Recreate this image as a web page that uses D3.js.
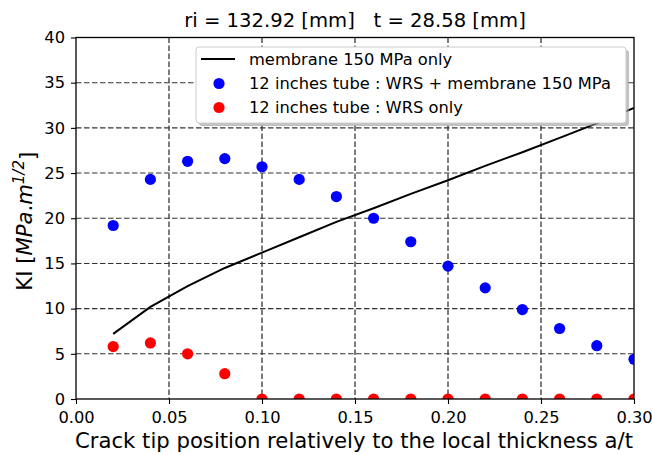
<!DOCTYPE html>
<html>
<head>
<meta charset="utf-8">
<script src="https://d3js.org/d3.v7.min.js"></script>
<style>
  body { margin: 0; background: #fff; }
  text { font-family: "DejaVu Sans", sans-serif; fill: #000; }
</style>
</head>
<body>
<svg id="chart" width="652" height="455"></svg>
<script>
// crack depth positions a/t
const positions = [0.02, 0.04, 0.06, 0.08, 0.10, 0.12, 0.14, 0.16, 0.18, 0.20, 0.22, 0.24, 0.26, 0.28, 0.30];
// KI for membrane stress only (line)
const membraneKI = [7.2, 10.2, 12.5, 14.5, 16.2, 17.9, 19.6, 21.1, 22.7, 24.2, 25.8, 27.3, 28.9, 30.5, 32.2];
// KI for WRS + membrane (blue dots)
const wrsMembraneKI = [19.2, 24.3, 26.3, 26.6, 25.7, 24.3, 22.4, 20.0, 17.4, 14.7, 12.3, 9.9, 7.8, 5.9, 4.4];
// KI for WRS only (red dots)
const wrsOnlyKI = [5.8, 6.2, 5.0, 2.8, 0, 0, 0, 0, 0, 0, 0, 0, 0, 0, 0];

const xTicks = [0, 0.05, 0.10, 0.15, 0.20, 0.25, 0.30];
const yTicks = [0, 5, 10, 15, 20, 25, 30, 35, 40];
const legendLabels = ["membrane 150 MPa only", "12 inches tube : WRS + membrane 150 MPa", "12 inches tube : WRS only"];

const svg = d3.select("#chart");
const pLeft = 76, pRight = 634, pTop = 37.5, pBottom = 399;

const x = d3.scaleLinear().domain([0, 0.3]).range([pLeft, pRight]);
const y = d3.scaleLinear().domain([0, 40]).range([pBottom, pTop]);

svg.append("defs").append("clipPath").attr("id", "clip")
  .append("rect").attr("x", pLeft).attr("y", pTop)
  .attr("width", pRight - pLeft).attr("height", pBottom - pTop);

// grid
const grid = svg.append("g");
grid.selectAll("line.gx").data(xTicks.slice(1, -1)).join("line")
  .attr("x1", d => x(d)).attr("x2", d => x(d))
  .attr("y1", pTop).attr("y2", pBottom)
  .attr("stroke", "#111").attr("stroke-width", 1.1).attr("stroke-dasharray", "5.5,2.5");
grid.selectAll("line.gy").data(yTicks.slice(1, -1)).join("line")
  .attr("x1", pLeft).attr("x2", pRight)
  .attr("y1", d => y(d)).attr("y2", d => y(d))
  .attr("stroke", "#333").attr("stroke-width", 1.1).attr("stroke-dasharray", "5.5,2.5");

// axes
const xAxis = svg.append("g").attr("transform", `translate(0,${pBottom})`)
  .call(d3.axisBottom(x).tickValues(xTicks).tickFormat(d3.format(".2f")).tickSize(5).tickPadding(7));
const yAxis = svg.append("g").attr("transform", `translate(${pLeft},0)`)
  .call(d3.axisLeft(y).tickValues(yTicks).tickSize(5).tickPadding(6));
[xAxis, yAxis].forEach(a => {
  a.select(".domain").remove();
  a.selectAll(".tick line").attr("stroke", "#000").attr("stroke-width", 1.1);
  a.selectAll(".tick text").style("font-family", "DejaVu Sans").style("font-size", "16.3px").attr("fill", "#000");
});

// data
const plot = svg.append("g").attr("clip-path", "url(#clip)");
plot.append("path")
  .datum(positions.map((p, i) => [p, membraneKI[i]]))
  .attr("fill", "none").attr("stroke", "#000").attr("stroke-width", 2)
  .attr("d", d3.line().x(d => x(d[0])).y(d => y(d[1])));
plot.selectAll("circle.blue").data(positions).join("circle")
  .attr("class", "blue")
  .attr("cx", d => x(d)).attr("cy", (d, i) => y(wrsMembraneKI[i]))
  .attr("r", 5.6).attr("fill", "#0000ff");
plot.selectAll("circle.red").data(positions).join("circle")
  .attr("class", "red")
  .attr("cx", d => x(d)).attr("cy", (d, i) => y(wrsOnlyKI[i]))
  .attr("r", 5.6).attr("fill", "#ff0000");

// frame
svg.append("rect").attr("x", pLeft).attr("y", pTop)
  .attr("width", pRight - pLeft).attr("height", pBottom - pTop)
  .attr("fill", "none").attr("stroke", "#000").attr("stroke-width", 1.3);

// legend
const lg = svg.append("g");
lg.append("rect").attr("x", 199).attr("y", 50).attr("width", 430).attr("height", 76)
  .attr("rx", 3).attr("fill", "#999").attr("opacity", 0.6);
lg.append("rect").attr("x", 196).attr("y", 47).attr("width", 430).attr("height", 76)
  .attr("rx", 3).attr("fill", "#fff").attr("stroke", "#ccc").attr("stroke-width", 1);
const rowsY = [59, 83.5, 107.5];
lg.append("line").attr("x1", 201).attr("x2", 235).attr("y1", rowsY[0]).attr("y2", rowsY[0])
  .attr("stroke", "#000").attr("stroke-width", 2);
lg.append("circle").attr("cx", 219).attr("cy", rowsY[1]).attr("r", 5.6).attr("fill", "#0000ff");
lg.append("circle").attr("cx", 219).attr("cy", rowsY[2]).attr("r", 5.6).attr("fill", "#ff0000");
lg.selectAll("text").data(legendLabels).join("text")
  .attr("x", 249).attr("y", (d, i) => rowsY[i]).attr("dy", "0.35em")
  .style("font-size", "16.3px").text(d => d);

// title
svg.append("text").attr("x", (pLeft + pRight) / 2).attr("y", 27)
  .attr("text-anchor", "middle").style("font-size", "19.6px").style("white-space", "pre")
  .text("ri = 132.92 [mm]   t = 28.58 [mm]");

// x label
svg.append("text").attr("x", (pLeft + pRight) / 2 - 1).attr("y", 448)
  .attr("text-anchor", "middle").style("font-size", "21.2px")
  .text("Crack tip position relatively to the local thickness a/t");

// y label
const yl = svg.append("text").attr("transform", `translate(32,${(pTop + pBottom) / 2 + 3}) rotate(-90)`)
  .attr("text-anchor", "middle").style("font-size", "21.2px");
yl.append("tspan").text("KI [");
yl.append("tspan").style("font-style", "italic").text("MPa");
yl.append("tspan").text(".");
yl.append("tspan").style("font-style", "italic").text("m");
yl.append("tspan").attr("dy", "-0.55em").style("font-size", "15px").style("font-style", "italic").text("1/2");
yl.append("tspan").attr("dy", "0.55em").text("]");
</script>
</body>
</html>
